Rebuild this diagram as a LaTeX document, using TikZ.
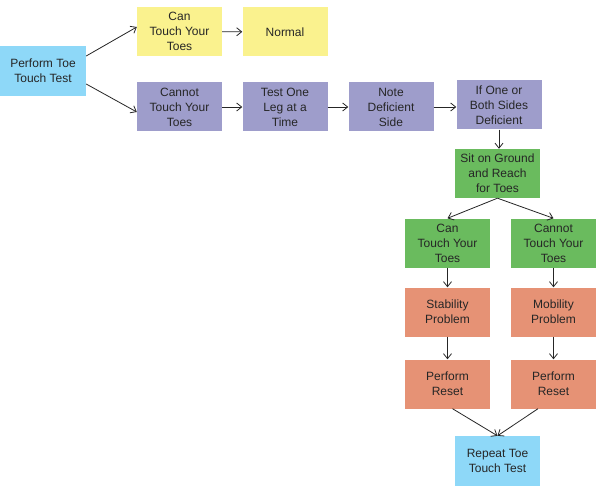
\documentclass[tikz,border=0pt]{standalone}
\usepackage{fontspec}
\setmainfont{Liberation Sans}
\usetikzlibrary{arrows.meta}
\definecolor{cblue}{RGB}{142,216,248}
\definecolor{cyellow}{RGB}{250,242,142}
\definecolor{cpurple}{RGB}{158,157,203}
\definecolor{cgreen}{RGB}{106,187,94}
\definecolor{corange}{RGB}{230,146,117}
\tikzset{
  box/.style={minimum width=85pt, minimum height=49pt, inner sep=1pt, align=center,
    font=\fontsize{12}{15}\selectfont, text=black!85},
  conn/.style={draw=black!85, line width=0.8pt, -{Straight Barb[length=5pt,width=8pt]}}
}
\begin{document}
\begin{tikzpicture}[x=1pt,y=-1pt]
\useasboundingbox[fill=white] (0,0) rectangle (600,492);
\node[box, fill=cblue, minimum width=86pt, minimum height=50pt] (start) at (43,71) {Perform Toe\\Touch Test};
\node[box, fill=cyellow] (can1) at (179.5,31.5) {Can\\Touch Your\\Toes};
\node[box, fill=cyellow] (normal) at (285,32) {Normal};
\node[box, fill=cpurple] (cannot1) at (179.5,107) {Cannot\\Touch Your\\Toes};
\node[box, fill=cpurple] (test) at (285,107) {Test One\\Leg at a\\Time};
\node[box, fill=cpurple] (note) at (391,107) {Note\\Deficient\\Side};
\node[box, fill=cpurple] (ifone) at (499,105) {If One or\\Both Sides\\Deficient};
\node[box, fill=cgreen] (sit) at (497.5,173.5) {Sit on Ground\\and Reach\\for Toes};
\node[box, fill=cgreen] (can2) at (447.5,243) {Can\\Touch Your\\Toes};
\node[box, fill=cgreen] (cannot2) at (553.5,243) {Cannot\\Touch Your\\Toes};
\node[box, fill=corange] (stab) at (447.5,312) {Stability\\Problem};
\node[box, fill=corange] (mob) at (553.5,312) {Mobility\\Problem};
\node[box, fill=corange] (reset1) at (447.5,384) {Perform\\Reset};
\node[box, fill=corange] (reset2) at (553.5,384) {Perform\\Reset};
\node[box, fill=cblue, minimum height=50pt] (repeat) at (497.5,461) {Repeat Toe\\Touch Test};

\draw[conn] ([yshift=15pt]start.east) -- ([yshift=4.5pt]can1.west);
\draw[conn] ([yshift=-13pt]start.east) -- ([yshift=-5pt]cannot1.west);
\draw[conn] (can1) -- (normal);
\draw[conn] (cannot1) -- (test);
\draw[conn] (test) -- (note);
\draw[conn] (note.east) -- (ifone.west |- note.east);
\draw[conn] (ifone) -- (ifone.south |- sit.north);
\draw[conn] (sit.south) -- (can2.north);
\draw[conn] (sit.south) -- (cannot2.north);
\draw[conn] (can2) -- (stab);
\draw[conn] (cannot2) -- (mob);
\draw[conn] (stab) -- (reset1);
\draw[conn] (mob) -- (reset2);
\draw[conn] ([xshift=5pt]reset1.south) -- (repeat.north);
\draw[conn] ([xshift=-15.5pt]reset2.south) -- (repeat.north);
\end{tikzpicture}
\end{document}
